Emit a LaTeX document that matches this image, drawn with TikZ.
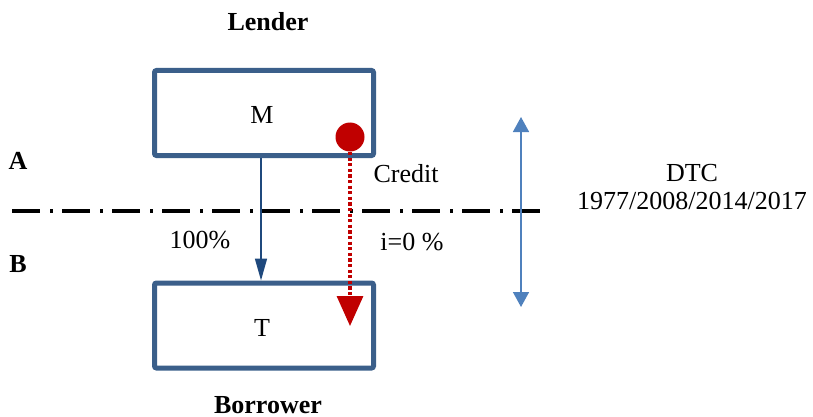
\documentclass[tikz,border=0pt]{standalone}
\usepackage{fontspec}
\setmainfont{Liberation Serif}
\usetikzlibrary{arrows.meta}
\definecolor{boxblue}{HTML}{3B5F8A}
\definecolor{flowblue}{HTML}{1F497D}
\definecolor{spanblue}{HTML}{4F81BD}
\definecolor{credred}{HTML}{C00000}
\tikzset{
  % boxes
  acct/.style={draw=boxblue,line width=2.5pt,rounded corners=1pt,fill=white,
               minimum width=109.5pt,minimum height=42.5pt,inner sep=0pt},
  lbl/.style={font=\fontsize{13}{15}\selectfont,inner sep=1pt},
  role/.style={font=\fontsize{13}{15}\selectfont\bfseries,inner sep=1pt},
  % arrows
  flow/.style={-{Triangle[length=11pt,width=6pt]},draw=flowblue,line width=0.8pt},
  cred/.style={-{Triangle[length=15pt,width=13pt]},draw=credred,line width=1.6pt,
               dash pattern=on 1.6pt off 1.2pt},
  span/.style={{Triangle[length=7.5pt,width=8pt]}-{Triangle[length=7.5pt,width=8pt]},
               draw=spanblue,line width=0.8pt},
  border/.style={draw=black,line width=1.8pt,dash pattern=on 14pt off 5pt on 1.5pt off 4.5pt},
}
\begin{document}
\begin{tikzpicture}[x=0.5pt,y=-0.5pt]
\useasboundingbox (0,0) rectangle (813,417);
  \node[role] (lender) at (268,22) {Lender};
  \node[acct] (m) at (264,113) {};
  \node[lbl] (mlbl) at (262,115) {M};
  \node[acct] (t) at (264,325.5) {};
  \node[lbl] (tlbl) at (262,328) {T};
  \node[role] (borrower) at (268,405) {Borrower};
  \node[role] (a) at (18,161) {A};
  \node[role] (b) at (18,264) {B};
  % border line
  \coordinate (bl) at (12,211);
  \coordinate (br) at (540,211);
  \draw[border] (bl) -- (br);
  % flows
  \draw[flow] ([xshift=-1.5pt]m.south) -- ([xshift=-1.5pt]t.north);
  \node[circle,fill=credred,minimum size=14.5pt,inner sep=0pt] (coin) at (350,137) {};
  \coordinate (credend) at (350,326);
  \draw[cred] (coin.south) -- (credend);
  \node[lbl] (credit) at (406,174) {Credit};
  \node[lbl] (share) at (200,240) {100\%};
  \node[lbl] (rate) at (412,242) {i=0 \%};
  % time span
  \coordinate (dtctop) at (521,117);
  \coordinate (dtcbot) at (521,307);
  \draw[span] (dtctop) -- (dtcbot);
  \node[lbl,align=center] (dtc) at (692,187) {DTC\\[-1pt]1977/2008/2014/2017};
\end{tikzpicture}
\end{document}
